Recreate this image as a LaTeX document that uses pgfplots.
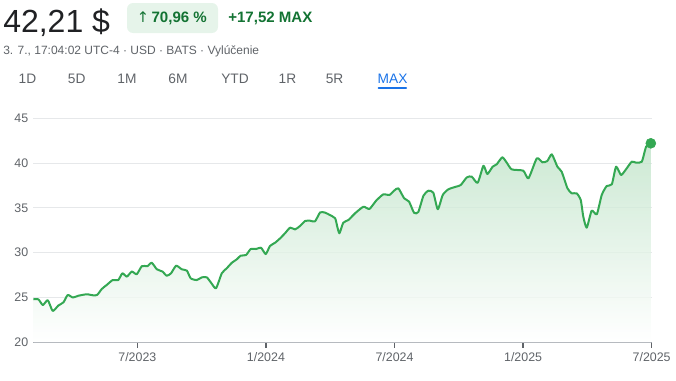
\documentclass[border=0pt]{standalone}
\usepackage{fontspec}
\setmainfont{Liberation Sans}
\newfontfamily\dejavu{DejaVu Sans}
\usepackage{pgfplots}
\usepackage{pgfplotstable}
\pgfplotsset{compat=1.18}
\definecolor{gline}{HTML}{34A853}
\definecolor{gdark}{HTML}{137333}
\definecolor{gbox}{HTML}{E6F4EA}
\definecolor{txt}{HTML}{202124}
\definecolor{sub}{HTML}{5F6368}
\definecolor{gblue}{HTML}{1A73E8}
\definecolor{gridc}{HTML}{E6E8EA}
\definecolor{axc}{HTML}{9AA0A6}
\definecolor{filltop}{HTML}{BFE3C8}

\pgfplotstableread{
m p
-4.85 24.8
-4.62 24.8
-4.41 24.16
-4.18 24.7
-3.95 23.5
-3.69 24.1
-3.45 24.46
-3.25 25.28
-3.01 25.0
-2.75 25.2
-2.36 25.36
-2.05 25.24
-1.87 25.3
-1.66 25.95
-1.43 26.4
-1.15 26.95
-0.89 26.95
-0.70 27.7
-0.49 27.33
-0.26 27.9
-0.03 27.6
0.21 28.5
0.47 28.5
0.67 28.88
0.91 28.15
1.17 27.9
1.37 27.43
1.57 27.7
1.81 28.55
2.07 28.15
2.31 28.0
2.49 27.14
2.77 26.95
3.01 27.25
3.24 27.25
3.44 26.65
3.67 26.03
3.94 27.7
4.17 28.26
4.41 28.88
4.64 29.26
4.82 29.67
5.07 29.74
5.29 30.41
5.54 30.41
5.77 30.56
5.99 29.85
6.19 30.75
6.43 31.12
6.66 31.6
6.89 32.17
7.13 32.8
7.36 32.6
7.59 32.98
7.83 33.54
8.06 33.57
8.29 33.5
8.53 34.5
8.76 34.47
8.99 34.2
9.23 33.84
9.33 32.9
9.43 32.17
9.61 33.35
9.85 33.65
10.16 34.4
10.55 35.13
10.83 34.88
11.14 35.8
11.48 36.52
11.76 36.44
11.98 36.92
12.18 37.19
12.45 36.07
12.68 35.7
12.91 34.46
13.11 34.54
13.35 36.36
13.58 36.92
13.81 36.7
14.02 34.85
14.25 36.44
14.51 37.07
14.87 37.37
15.09 37.55
15.37 38.4
15.60 38.5
15.88 37.8
16.15 39.7
16.33 38.78
16.58 39.6
16.77 39.87
17.03 40.65
17.24 40.04
17.47 39.3
18.01 39.15
18.25 38.3
18.64 40.53
18.90 40.09
19.13 40.23
19.34 40.98
19.60 39.6
19.80 39.04
20.07 37.19
20.27 36.63
20.50 36.63
20.69 35.88
20.81 34.02
20.97 32.79
21.20 34.69
21.44 34.29
21.67 36.44
21.90 37.44
22.14 37.63
22.34 39.6
22.57 38.67
22.80 39.3
23.07 40.16
23.27 40.05
23.54 40.16
23.74 41.83
23.96 42.21
}\prices

\begin{document}
\begin{tikzpicture}
\useasboundingbox (0,0) rectangle (507pt,285pt);
% header
\node[anchor=base west, inner sep=0, text=txt, font=\fontsize{24}{28}\selectfont] at (2.25pt,261pt) {42,21 \$};
\fill[gbox, rounded corners=4.5pt] (95.25pt,260.25pt) rectangle (163.5pt,282.75pt);
\node[anchor=base west, inner sep=0, text=gdark, font=\dejavu\fontsize{11}{13}\selectfont] at (102.5pt,268pt) {↑};
\node[anchor=base west, inner sep=0, text=gdark, font=\fontsize{11.3}{13}\selectfont\bfseries] at (113.5pt,268pt) {70,96 \%};
\node[anchor=base west, inner sep=0, text=gdark, font=\fontsize{11.3}{13}\selectfont\bfseries] at (171pt,268pt) {+17,52 MAX};
\node[anchor=base west, inner sep=0, text=sub, font=\fontsize{9}{11}\selectfont] at (2.25pt,244.5pt) {3. 7., 17:04:02 UTC-4 · USD · BATS · Vylúčenie};
% tabs
\foreach \t/\x in {1D/20.6, 5D/57.5, 1M/95.25, 6M/133.5, YTD/176.25, 1R/215.6, 5R/250.9}
  \node[anchor=base, inner sep=0, text=sub, font=\fontsize{10.3}{12}\selectfont] at (\x pt,222.5pt) {\t};
\node[anchor=base, inner sep=0, text=gblue, font=\fontsize{10.3}{12}\selectfont] at (294.4pt,222.5pt) {MAX};
\draw[gblue, line width=1.6pt, line cap=round] (284pt,218.8pt) -- (304.5pt,218.8pt);

\begin{axis}[
  at={(24.75pt,28.275pt)}, anchor=south west,
  scale only axis, width=464pt, height=168pt,
  xmin=-4.87, xmax=24.0, ymin=20, ymax=45,
  axis lines*=left,
  y axis line style={draw=none},
  x axis line style={draw=axc, line width=0.75pt},
  xtick={0,6,12,18,24},
  xticklabels={7/2023,1/2024,7/2024,1/2025,7/2025},
  ytick={20,25,30,35,40,45},
  ymajorgrids,
  grid style={draw=gridc, line width=0.75pt},
  major y tick style={draw=none},
  xtick align=outside,
  major x tick style={draw=sub, line width=1pt},
  major tick length=4pt,
  tick label style={font=\fontsize{9.3}{11}\selectfont, text=sub},
  /pgf/number format/assume math mode=true,
  clip=false,
]
\addplot[draw=none, top color=filltop, bottom color=white, fill opacity=0.8] table[x=m,y=p] {\prices} |- (axis cs:-4.85,20) -- cycle;
\addplot[gline, line width=1.5pt, line join=round, smooth, tension=0.35, no markers] table[x=m,y=p] {\prices};
\addplot[only marks, mark=*, mark size=3.75pt, gline] coordinates {(23.96,42.21)};
\end{axis}
\end{tikzpicture}
\end{document}
